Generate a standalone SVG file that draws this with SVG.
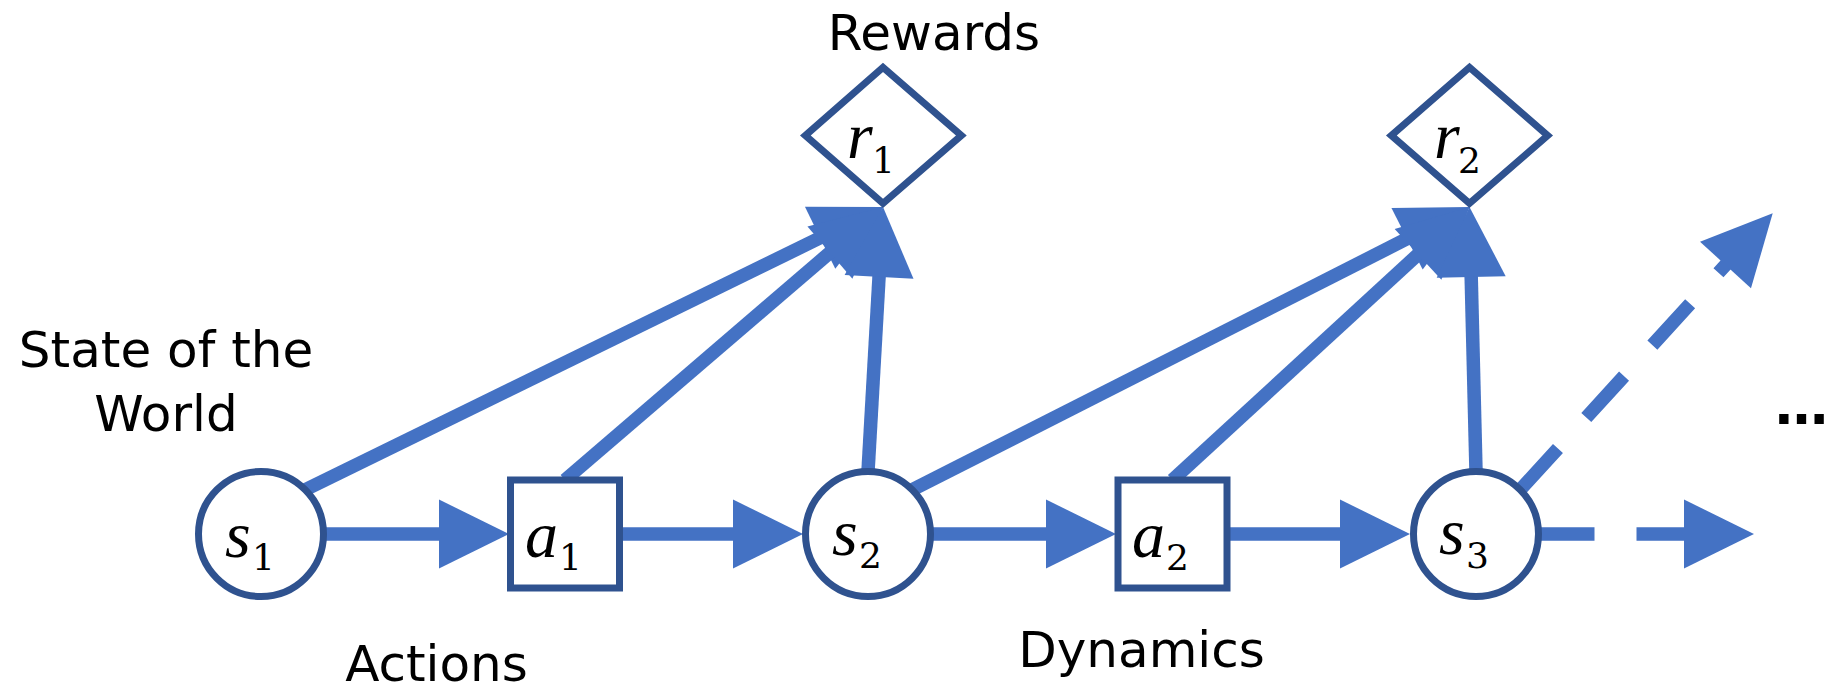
<svg xmlns="http://www.w3.org/2000/svg" width="1824" height="690" viewBox="0 0 1824 690">
<defs>
<style>
.c{fill:none;stroke:#4472C4;stroke-width:13.5;stroke-linecap:butt;marker-end:url(#ah)}
.d{stroke-dasharray:56 42}
.n{fill:#FFFFFF;stroke:#2F528F;stroke-width:7}
.lbl{font-family:"DejaVu Sans",sans-serif;font-size:50px;fill:#000000;text-anchor:middle}
.m{font-family:"Liberation Serif",serif;font-style:italic;font-size:66px;fill:#000000}
.sb{font-family:"DejaVu Serif",serif;font-size:36px;fill:#000000}
</style>
<marker id="ah" markerUnits="userSpaceOnUse" markerWidth="70" markerHeight="69" viewBox="0 0 70 69" refX="8" refY="34.5" orient="auto" overflow="visible">
<path d="M0,0 L70,34.5 L0,69 Z" fill="#4472C4"/>
</marker>
</defs>
<rect width="1824" height="690" fill="#FFFFFF"/>

<g id="connectors">
<line class="c" x1="323.5" y1="534" x2="447" y2="534"/>
<line class="c" x1="619.5" y1="534" x2="741" y2="534"/>
<line class="c" x1="930.5" y1="534" x2="1054" y2="534"/>
<line class="c" x1="1227" y1="534" x2="1348" y2="534"/>
<line class="c d" x1="1538.5" y1="534" x2="1692" y2="534"/>
<line class="c" x1="305.2" y1="489.8" x2="827.3" y2="234.3"/>
<line class="c" x1="565" y1="480" x2="836" y2="247.4"/>
<line class="c" x1="868" y1="471.5" x2="879.5" y2="268.9"/>
<line class="c" x1="912.2" y1="489.8" x2="1414.2" y2="235.1"/>
<line class="c" x1="1172.5" y1="480" x2="1423.9" y2="249"/>
<line class="c" x1="1476" y1="471.5" x2="1471" y2="269"/>
<line class="c d" x1="1520.2" y1="489.8" x2="1730.9" y2="259.1"/>
</g>

<g id="s1">
<circle class="n" cx="261" cy="534" r="62.5"/>
<text class="m" x="225" y="557">s</text><text class="sb" x="252" y="570">1</text>
</g>
<g id="a1">
<rect class="n" x="510.5" y="480" width="109" height="108"/>
<text class="m" x="525" y="557">a</text><text class="sb" x="559" y="570">1</text>
</g>
<g id="s2">
<circle class="n" cx="868" cy="534" r="62.5"/>
<text class="m" x="832" y="555">s</text><text class="sb" x="859" y="568">2</text>
</g>
<g id="a2">
<rect class="n" x="1118" y="480" width="109" height="108"/>
<text class="m" x="1132" y="557">a</text><text class="sb" x="1166" y="570">2</text>
</g>
<g id="s3">
<circle class="n" cx="1476" cy="534" r="62.5"/>
<text class="m" x="1439" y="554">s</text><text class="sb" x="1466" y="568">3</text>
</g>
<g id="r1">
<path class="n" d="M883,67.4 L961.4,135.5 L883,203.3 L805.3,135.5 Z"/>
<text class="m" x="847" y="158">r</text><text class="sb" x="872" y="173">1</text>
</g>
<g id="r2">
<path class="n" d="M1469.5,67.4 L1547.7,135.5 L1469.5,203.3 L1391.3,135.5 Z"/>
<text class="m" x="1434" y="158">r</text><text class="sb" x="1458" y="173">2</text>
</g>

<g id="labels">
<text class="lbl" x="934" y="50">Rewards</text>
<text class="lbl" x="166" y="367">State of the</text>
<text class="lbl" x="166" y="431">World</text>
<text class="lbl" x="436.5" y="681">Actions</text>
<text class="lbl" x="1141.5" y="667">Dynamics</text>
<text x="1775" y="424" font-family="DejaVu Sans, sans-serif" font-weight="bold" font-size="53" fill="#000000">…</text>
</g>
</svg>
